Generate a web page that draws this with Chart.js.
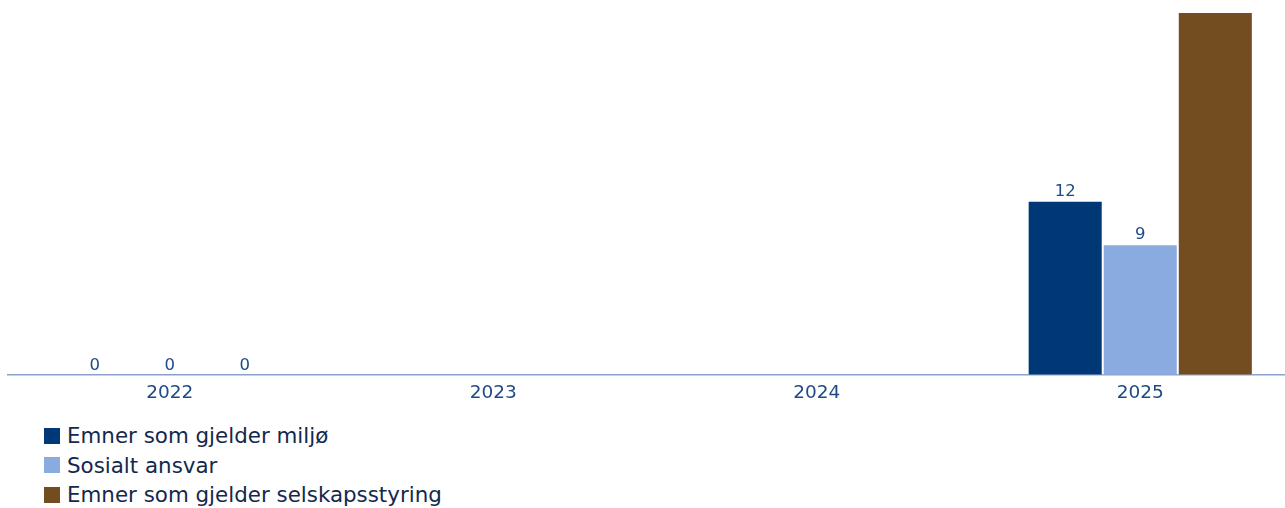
<!DOCTYPE html>
<html>
<head>
<meta charset="utf-8">
<script src="https://cdn.jsdelivr.net/npm/chart.js@4/dist/chart.umd.min.js"></script>
<style>
  html, body { margin: 0; padding: 0; background: #fff; overflow: hidden; width: 1285px; height: 508px; }
  #wrap { position: absolute; left: 0; top: 0; width: 1302px; height: 407px; }
  #legend { position: absolute; left: 44px; top: 421px; font-family: "DejaVu Sans", sans-serif; font-size: 21.4px; color: #14284b; }
  .item { display: flex; align-items: center; height: 29.5px; }
  .box { width: 16px; height: 16px; margin-right: 7px; }
</style>
</head>
<body>
<div id="wrap"><canvas id="c"></canvas></div>
<div id="legend"></div>
<script>
const categories = ["2022", "2023", "2024", "2025"];
const seriesNames = ["Emner som gjelder miljø", "Sosialt ansvar", "Emner som gjelder selskapsstyring"];
const miljo = [0, null, null, 12];
const sosialt = [0, null, null, 9];
const styring = [0, null, null, 25];
const colors = ["#003876", "#8aabdf", "#734c20"];
const FONT = '"DejaVu Sans", sans-serif';

const labelPlugin = {
  id: 'barLabels',
  afterDatasetsDraw(chart) {
    const ctx = chart.ctx;
    ctx.save();
    ctx.font = '16.5px ' + FONT;
    ctx.fillStyle = '#1f4a87';
    ctx.textAlign = 'center';
    ctx.textBaseline = 'alphabetic';
    chart.data.datasets.forEach((ds, di) => {
      const meta = chart.getDatasetMeta(di);
      meta.data.forEach((bar, i) => {
        const v = ds.data[i];
        if (v === null || v === undefined) return;
        const y = bar.y - 5;
        if (y - 16 < 0) return; // label would fall outside the canvas
        ctx.fillText(String(v), bar.x, y);
      });
    });
    ctx.restore();
  }
};

const data = {
  labels: categories,
  datasets: [
    { label: seriesNames[0], data: miljo, backgroundColor: colors[0] },
    { label: seriesNames[1], data: sosialt, backgroundColor: colors[1] },
    { label: seriesNames[2], data: styring, backgroundColor: colors[2] }
  ].map(d => Object.assign(d, {
    borderColor: 'rgba(255,255,255,0.55)',
    borderWidth: 1,
    barPercentage: 1.0,
    categoryPercentage: 0.696
  }))
};

const chart = new Chart(document.getElementById('c'), {
  type: 'bar',
  data,
  options: {
    responsive: true,
    maintainAspectRatio: false,
    animation: false,
    layout: { padding: { left: 8, right: 0, top: 12, bottom: 0 } },
    plugins: { legend: { display: false }, tooltip: { enabled: false } },
    scales: {
      x: {
        offset: true,
        grid: { display: false, drawTicks: true, tickLength: 4, color: '#8aa2c8' },
        border: { display: true, color: '#8aa2c8', width: 1.5 },
        ticks: { color: '#1f4a87', font: { family: FONT, size: 18.5 }, padding: 3 }
      },
      y: {
        display: false,
        min: 0,
        max: 25
      }
    }
  },
  plugins: [labelPlugin]
});

const legend = document.getElementById('legend');
chart.data.datasets.forEach(ds => {
  const it = document.createElement('div');
  it.className = 'item';
  const b = document.createElement('span');
  b.className = 'box';
  b.style.background = ds.backgroundColor;
  const t = document.createElement('span');
  t.textContent = ds.label;
  it.appendChild(b); it.appendChild(t);
  legend.appendChild(it);
});
</script>
</body>
</html>
